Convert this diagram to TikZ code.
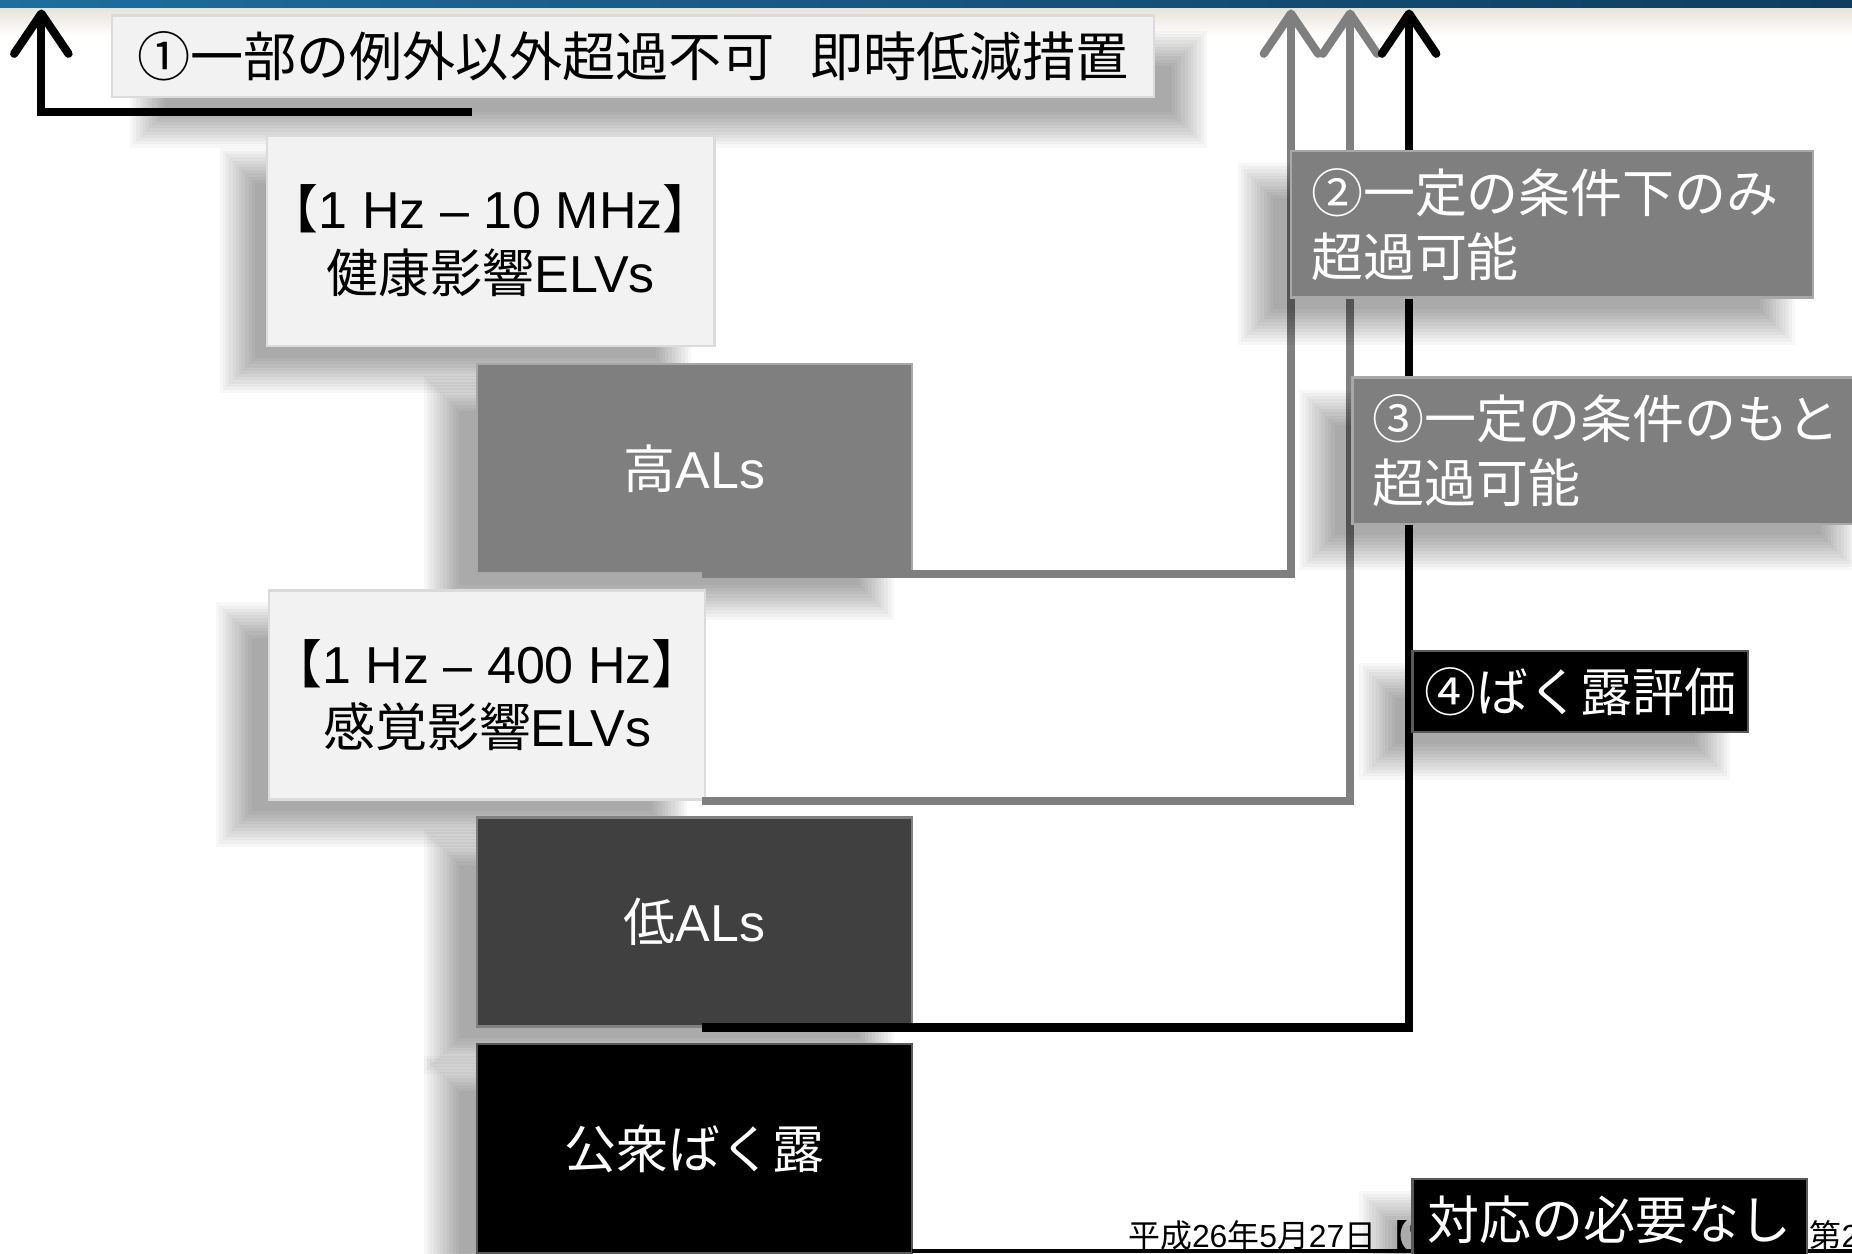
\documentclass[tikz,border=0pt]{standalone}
\usepackage{fontspec}
\setmainfont{Noto Sans CJK JP}
\newfontfamily\lat{Liberation Sans}
\usetikzlibrary{arrows.meta,calc}
\definecolor{lightbox}{HTML}{F2F2F2}
\definecolor{midbox}{HTML}{7F7F7F}
\definecolor{darkbox}{HTML}{404040}
\definecolor{barblue}{HTML}{1F6E9F}
\definecolor{bardark}{HTML}{0E3D5E}
\definecolor{beige}{HTML}{E6E2D6}
\newcommand\sshadow[4]{%
  \foreach \i in {0,...,11}{%
    \pgfmathsetmacro\rr{15-2.727*\i}%
    \fill[black, opacity=0.032] ({#1-\rr},{#2-\rr}) rectangle ({#3+\rr},{#4+\rr});
  }}
\begin{document}
\begin{tikzpicture}[x=1pt,y=-1pt,
  box/.style={rectangle, inner sep=0pt, outer sep=0pt, line width=2pt, align=center,
    font=\fontsize{44}{54}\selectfont},
  lbox/.style={box, fill=lightbox, draw=white!86!black, text=black},
  gbox/.style={box, fill=midbox, draw=white!66!black, text=white},
  dbox/.style={box, fill=darkbox, draw=white!50!black, text=white},
  kbox/.style={box, fill=black, draw=white!35!black, text=white},
  conn/.style={line width=7pt, line join=miter, -{Straight Barb[round, length=34pt, width=46pt]}},
  foot/.style={anchor=base west, inner sep=0pt, font=\fontsize{27}{30}\selectfont},
]
\useasboundingbox (0,0) rectangle (1568,1061);
\fill[white] (0,0) rectangle (1568,1061);
% top band
\shade[top color=beige, bottom color=white] (0,6) rectangle (1568,30);
\shade[left color=barblue, right color=bardark] (0,0) rectangle (1568,6.5);

% arrow end points
\coordinate (t1) at (35,8);
\coordinate (t2) at (1093,8);
\coordinate (t3) at (1143,8);
\coordinate (t4) at (1193,8);
\coordinate (s1) at (400,95);

% box 1
\sshadow{125}{41}{1007}{110}
\node[lbox, minimum width=882pt, minimum height=69pt, font=\fontsize{45}{54}\selectfont] (b1) at (536,47.5)
  {①一部の例外以外超過不可\hspace{30pt}即時低減措置};
\draw[conn] (s1) -| (t1);

% left column
\sshadow{201}{140}{570}{318}
\node[lbox, minimum width=369pt, minimum height=178pt] (elv1) at (415.5,204)
  {【{\lat 1 Hz – 10 MHz}】\\健康影響{\lat ELVs}};
\sshadow{374}{333}{742}{510}
\node[gbox, minimum width=368pt, minimum height=177pt] (hial) at (588,396.5) {高{\lat ALs}};
\sshadow{198}{525}{567}{702}
\node[lbox, minimum width=369pt, minimum height=177pt] (elv2) at (412.5,588.5)
  {【{\lat 1 Hz – 400 Hz}】\\感覚影響{\lat ELVs}};
\sshadow{374}{717}{742}{894}
\node[dbox, minimum width=368pt, minimum height=177pt] (lowal) at (588,780.5) {低{\lat ALs}};
\sshadow{374}{909}{742}{1086}
\node[kbox, minimum width=368pt, minimum height=177pt] (pub) at (588,972.5) {公衆ばく露};

% connectors
\draw[conn, midbox] ($(hial.south)+(6,1)$) -| (t2);
\draw[conn, midbox] ($(elv2.south east)+(-3,1)$) -| (t3);
\draw[conn, black] ($(lowal.south)+(6,1)$) -| (t4);

% footer
\coordinate (bl) at (1568,1059);
\draw[line width=3pt] ($(pub.south east)+(0,-2)$) -- (bl);
\node[foot] (foot1) at (955,1056) {平成{\lat 26}年{\lat 5}月{\lat 27}日【電};
\node[foot] (foot2) at (1532,1056) {第{\lat 2}回};

% right column
\sshadow{1063}{153}{1505}{277}
\node[gbox, align=left, inner xsep=17pt, text width=408pt, minimum height=124pt] (c2) at (1314,190)
  {②一定の条件下のみ\\超過可能};
\sshadow{1115}{345}{1557}{468}
\node[gbox, align=left, inner xsep=17pt, text width=408pt, minimum height=124pt] (c3) at (1366,381.5)
  {③一定の条件のもと\\超過可能};
\sshadow{1166}{576}{1450}{645}
\node[kbox, minimum width=284pt, minimum height=69pt] (c4) at (1338,585.5) {④ばく露評価};
\sshadow{1166}{1023}{1500}{1092}
\node[kbox, minimum width=334pt, minimum height=69pt] (c5) at (1363,1032.5) {対応の必要なし};
\end{tikzpicture}
\end{document}
